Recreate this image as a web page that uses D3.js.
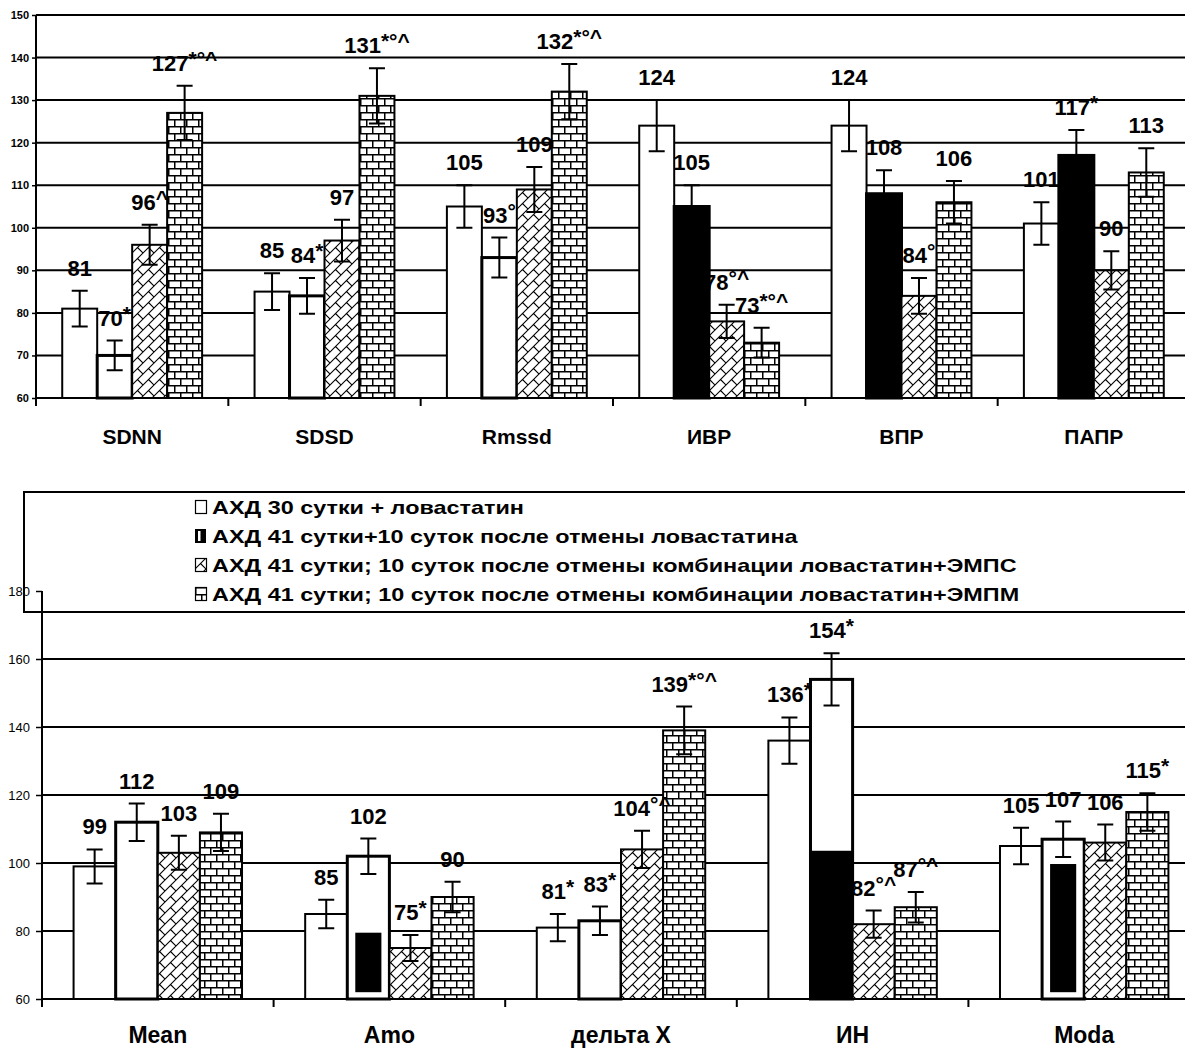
<!DOCTYPE html>
<html>
<head>
<meta charset="utf-8">
<title>D3</title>
<script src="https://d3js.org/d3.v7.min.js"></script>
<style>
  body { margin: 0; background: #fff; }
  text { font-family: "Liberation Sans", Arial, sans-serif; }
</style>
</head>
<body>
<svg id="chart" width="1185" height="1048"></svg>
<script>
// ---- top chart data ----
var topCats = ["SDNN", "SDSD", "Rmssd", "ИВР", "ВПР", "ПАПР"];
var topS1 = [81, 85, 105, 124, 124, 101];
var topS2 = [70, 84, 93, 105, 108, 117];
var topS3 = [96, 97, 109, 78, 84, 90];
var topS4 = [127, 131, 132, 73, 106, 113];
var topE1 = [4.2, 4.3, 5, 6, 6, 5];
var topE2 = [3.5, 4.2, 4.7, 5, 5.5, 6];
var topE3 = [4.7, 4.9, 5.3, 3.9, 4.2, 4.5];
var topE4 = [6.4, 6.5, 6.5, 3.5, 5, 5.7];
var topL1 = ["81", "85", "105", "124", "124", "101"];
var topL2 = ["70*", "84*", "93°", "105", "108", "117*"];
var topL3 = ["96^", "97", "109", "78°^", "84°", "90"];
var topL4 = ["127*°^", "131*°^", "132*°^", "73*°^", "106", "113"];
// dark part of the 2nd series bar [from, to]
var topDark2 = [null, null, null, [60, 105], [60, 108], [60, 117]];
var topTicks = [60, 70, 80, 90, 100, 110, 120, 130, 140, 150];

// ---- bottom chart data ----
var botCats = ["Mean", "Amo", "дельта Х", "ИН", "Moda"];
var botS1 = [99, 85, 81, 136, 105];
var botS2 = [112, 102, 83, 154, 107];
var botS3 = [103, 75, 104, 82, 106];
var botS4 = [109, 90, 139, 87, 115];
var botE1 = [5, 4.2, 4, 6.8, 5.4];
var botE2 = [5.5, 5.2, 4.2, 7.7, 5.2];
var botE3 = [5, 3.8, 5.5, 4, 5.3];
var botE4 = [5.5, 4.5, 7, 4.5, 5.5];
var botL1 = ["99", "85", "81*", "136*", "105"];
var botL2 = ["112", "102", "83*", "154*", "107"];
var botL3 = ["103", "75*", "104°^", "82°^", "106"];
var botL4 = ["109", "90", "139*°^", "87°^", "115*"];
var botDark2 = [null, [62, 79.5], null, [60, 103.6], [62, 99.7]];
var botTicks = [60, 80, 100, 120, 140, 160, 180];

var legendNames = [
  "АХД 30 сутки + ловастатин",
  "АХД 41 сутки+10 суток после отмены ловастатина",
  "АХД 41 сутки; 10 суток после отмены комбинации ловастатин+ЭМПС",
  "АХД 41 сутки; 10 суток после отмены комбинации ловастатин+ЭМПМ"
];

var svg = d3.select("#chart");
var defs = svg.append("defs");

var hatch = defs.append("pattern").attr("id", "hatch")
  .attr("patternUnits", "userSpaceOnUse").attr("width", 11).attr("height", 11);
hatch.append("rect").attr("width", 11).attr("height", 11).attr("fill", "#fff");
hatch.append("path").attr("d", "M0,11L11,0M5.5,5.5L11,11M-1,1L1,-1")
  .attr("stroke", "#000").attr("stroke-width", 1.1).attr("fill", "none");

var brick = defs.append("pattern").attr("id", "brick")
  .attr("patternUnits", "userSpaceOnUse").attr("width", 12).attr("height", 14);
brick.append("rect").attr("width", 12).attr("height", 14).attr("fill", "#fff");
brick.append("path").attr("d", "M0,0.75H12M0,7.75H12M0.75,0V7.5M6.75,7V14")
  .attr("stroke", "#000").attr("stroke-width", 1.5).attr("fill", "none");

var fills = ["#fff", "#fff", "url(#hatch)", "url(#brick)"];

function drawLabel(g, x, y, txt, size) {
  var m = txt.match(/^(\d+)(.*)$/);
  var t = g.append("text").attr("x", x).attr("y", y)
    .attr("text-anchor", "middle").attr("font-weight", "bold")
    .attr("font-size", size);
  t.append("tspan").text(m[1]);
  if (m[2]) {
    t.append("tspan").attr("dy", -5).attr("font-size", size - 1).text(m[2]);
  }
}

function drawChart(o) {
  var g = svg.append("g");
  var y = d3.scaleLinear().domain([o.ticks[0], o.ticks[o.ticks.length - 1]])
    .range([o.bottom, o.top]);
  var x0 = d3.scaleBand().domain(o.cats).range([o.left, o.right]).padding(0);
  var x1 = d3.scaleBand().domain([0, 1, 2, 3]).range([0, x0.bandwidth()])
    .paddingInner(0).paddingOuter(0.75);

  // gridlines
  g.selectAll(".grid").data(o.ticks.slice(1)).enter().append("line")
    .attr("x1", o.left).attr("x2", o.right)
    .attr("y1", function(d) { return y(d); }).attr("y2", function(d) { return y(d); })
    .attr("stroke", "#000").attr("stroke-width", 2);

  var series = [o.s1, o.s2, o.s3, o.s4];
  var errs = [o.e1, o.e2, o.e3, o.e4];
  var labs = [o.l1, o.l2, o.l3, o.l4];

  o.cats.forEach(function(c, ci) {
    series.forEach(function(s, si) {
      var bx = x0(c) + x1(si), bw = x1.bandwidth();
      var dark = si === 1 ? o.dark2[ci] : null;
      g.append("rect")
        .attr("x", bx).attr("y", y(s[ci]))
        .attr("width", bw).attr("height", y(o.ticks[0]) - y(s[ci]))
        .attr("fill", fills[si]).attr("stroke", "#000")
        .attr("stroke-width", si === 1 ? 3 : 2);
      if (dark) {
        var inset = dark[0] > o.ticks[0] ? 8 : 0;
        g.append("rect")
          .attr("x", bx + inset).attr("width", bw - 2 * inset)
          .attr("y", y(dark[1])).attr("height", y(dark[0]) - y(dark[1]))
          .attr("fill", "#000");
      }
    });
  });

  // error bars + labels
  o.cats.forEach(function(c, ci) {
    series.forEach(function(s, si) {
      var cx = x0(c) + x1(si) + x1.bandwidth() / 2;
      var hi = y(s[ci] + errs[si][ci]), lo = y(s[ci] - errs[si][ci]);
      g.append("path")
        .attr("d", "M" + (cx - 8) + "," + hi + "H" + (cx + 8) + "M" + cx + "," + hi + "V" + lo +
          "M" + (cx - 8) + "," + lo + "H" + (cx + 8))
        .attr("stroke", "#000").attr("stroke-width", 2).attr("fill", "none");
      drawLabel(g, cx, hi - 15, labs[si][ci], 22);
    });
  });

  // x axis
  g.append("line").attr("x1", o.left).attr("x2", o.right)
    .attr("y1", o.bottom).attr("y2", o.bottom)
    .attr("stroke", "#000").attr("stroke-width", 2);
  g.selectAll(".xt").data(o.cats).enter().append("line")
    .attr("x1", function(d) { return x0(d); }).attr("x2", function(d) { return x0(d); })
    .attr("y1", o.bottom).attr("y2", o.bottom + 8)
    .attr("stroke", "#000").attr("stroke-width", 2);
  g.selectAll(".xl").data(o.cats).enter().append("text")
    .attr("x", function(d) { return x0(d) + x0.bandwidth() / 2; })
    .attr("y", o.catY)
    .attr("text-anchor", "middle").attr("font-weight", "bold")
    .attr("font-size", o.catSize)
    .text(function(d) { return d; });

  return {g: g, y: y};
}

function drawYAxis(y, left, opts) {
  var ax = svg.append("g").attr("transform", "translate(" + left + ",0)")
    .call(d3.axisLeft(y).tickValues(opts.ticks).tickSize(opts.tick).tickPadding(opts.pad)
      .tickFormat(d3.format("d")));
  ax.select(".domain").attr("stroke", "#000").attr("stroke-width", 2)
    .attr("d", "M0," + y.range()[1] + "V" + y.range()[0]);
  ax.selectAll(".tick line").attr("stroke", "#000").attr("stroke-width", 1.5);
  ax.selectAll(".tick text").attr("fill", "#000")
    .attr("font-family", '"Liberation Sans", Arial, sans-serif')
    .attr("font-size", opts.size).attr("font-weight", opts.weight);
}

var topChart = drawChart({
  cats: topCats, s1: topS1, s2: topS2, s3: topS3, s4: topS4,
  e1: topE1, e2: topE2, e3: topE3, e4: topE4,
  l1: topL1, l2: topL2, l3: topL3, l4: topL4,
  dark2: topDark2, ticks: topTicks,
  left: 36, right: 1190, top: 15, bottom: 398, catY: 444, catSize: 21
});
drawYAxis(topChart.y, 36, {ticks: topTicks, size: 11, weight: "bold", tick: 4, pad: 3});

var botChart = drawChart({
  cats: botCats, s1: botS1, s2: botS2, s3: botS3, s4: botS4,
  e1: botE1, e2: botE2, e3: botE3, e4: botE4,
  l1: botL1, l2: botL2, l3: botL3, l4: botL4,
  dark2: botDark2, ticks: botTicks,
  left: 42, right: 1200, top: 591, bottom: 999, catY: 1043, catSize: 23
});

// legend box over top of bottom chart
var lg = svg.append("g");
lg.append("rect").attr("x", 24).attr("y", 492).attr("width", 1200).attr("height", 120)
  .attr("fill", "#fff").attr("stroke", "#000").attr("stroke-width", 2);
legendNames.forEach(function(name, i) {
  var ly = 507 + i * 29;
  var sw = lg.append("g").attr("transform", "translate(195," + (ly - 7) + ")");
  if (i === 1) {
    sw.append("rect").attr("width", 11).attr("height", 14).attr("fill", "#000");
    sw.append("rect").attr("x", 3).attr("y", 2).attr("width", 2.5).attr("height", 10).attr("fill", "#fff");
  } else {
    sw.append("rect").attr("x", 0.5).attr("y", 0.5).attr("width", 11).attr("height", 13)
      .attr("fill", fills[i]).attr("stroke", "#000").attr("stroke-width", 1.2);
  }
  // text in the source is stretched sideways
  lg.append("text").attr("transform", "translate(212," + (ly + 7) + ") scale(1.3,1)")
    .attr("font-size", 18).attr("font-weight", "bold").text(name);
});

drawYAxis(botChart.y, 42, {ticks: botTicks, size: 13, weight: "normal", tick: 6, pad: 6});
</script>
</body>
</html>
